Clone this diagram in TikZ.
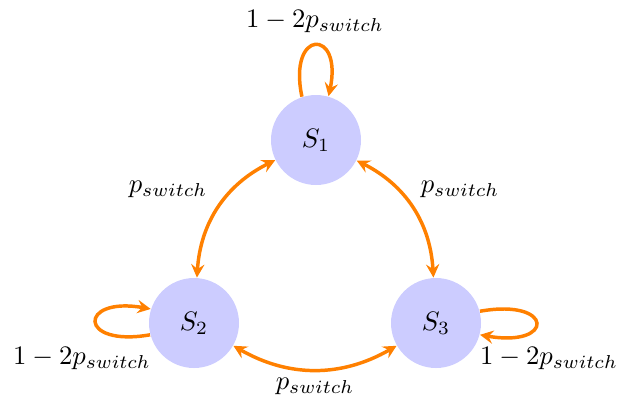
\documentclass[tikz,border=0pt]{standalone}
\usetikzlibrary{arrows.meta}
\begin{document}
\begin{tikzpicture}[x=0.013166cm, y=-0.013166cm,
  state/.style={circle, fill=blue!20, draw=none, minimum size=1.185cm, inner sep=0pt},
  tip/.style={Stealth[length=5pt,width=5pt,inset=1.8pt]},
  trans/.style={draw=orange, line width=1.3pt, -{Stealth[length=5pt,width=5pt,inset=1.8pt]}},
  both/.style={draw=orange, line width=1.3pt, {Stealth[length=5pt,width=5pt,inset=1.8pt]}-{Stealth[length=5pt,width=5pt,inset=1.8pt]}},
  lbl/.style={inner sep=0pt}]
\useasboundingbox (0,0) rectangle (638,400);
\node[state] (S1) at (316,140) {$S_1$};
\node[state] (S2) at (194,323) {$S_2$};
\node[state] (S3) at (436,323) {$S_3$};

\draw[trans] (S1.108) to[out=102, in=78, distance=0.92cm] (S1.74);
\draw[trans] (S2.195) to[out=190, in=170, distance=0.97cm] (S2.162);
\draw[trans] (S3.15) to[out=10, in=-10, distance=1.0cm] (S3.-15);

\draw[both] (S2) to[bend left=30] (S1);
\draw[both] (S1) to[bend left=30] (S3);
\draw[both] (S2) to[bend right=30] (S3);

\node[lbl] (t1) at (315,21) {$1-2p_{switch}$};
\node[lbl] (t2) at (82,358) {$1-2p_{switch}$};
\node[lbl] (t3) at (549,358) {$1-2p_{switch}$};
\node[lbl] (p12) at (168,189) {$p_{switch}$};
\node[lbl] (p13) at (460,189) {$p_{switch}$};
\node[lbl] (p23) at (315,386) {$p_{switch}$};
\end{tikzpicture}
\end{document}
